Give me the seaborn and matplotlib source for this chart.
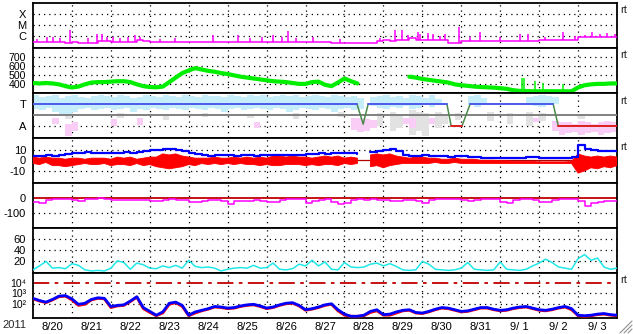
import numpy as np
import matplotlib
matplotlib.use("Agg")
import matplotlib.pyplot as plt
import seaborn as sns
from matplotlib.lines import Line2D

sns.set_theme(style="white")
plt.rcParams['font.family'] = ['Liberation Sans', 'DejaVu Sans']

nan = np.nan
# ---------------- data ----------------
year_label = "2011"
day_labels = ["8/20", "8/21", "8/22", "8/23", "8/24", "8/25", "8/26", "8/27",
              "8/28", "8/29", "8/30", "8/31", "9/ 1", "9/ 2", "9/ 3"]
# 4-hour samples starting 2011-08-20 00:00 (days)
t_grid = np.arange(91) / 6.0

# X-ray flux background (W/m2) and flare spikes
xray_base = [2.7e-7, 2.5e-7, 2.8e-7, 2.6e-7, 2.7e-7, 2.4e-7, 2.6e-7, 2.2e-7, 2.0e-7, 2.3e-7,
             3.3e-7, 3.2e-7, 3.0e-7, 2.7e-7, 2.8e-7, 2.6e-7, 3.8e-7, 3.5e-7, 2.7e-7, 2.6e-7,
             2.8e-7, 2.7e-7, 2.6e-7, 2.7e-7, 2.8e-7, 2.6e-7, 2.7e-7, 2.7e-7, 2.6e-7, 2.7e-7,
             2.7e-7, 2.6e-7, 2.7e-7, 2.8e-7, 2.7e-7, 2.6e-7, 2.7e-7, 2.7e-7, 2.8e-7, 2.7e-7,
             2.6e-7, 2.7e-7, 2.7e-7, 2.6e-7, 2.7e-7, 2.6e-7, 2.3e-7, 2.2e-7, 2.2e-7, 2.1e-7,
             2.2e-7, 2.3e-7, 2.4e-7, 3.5e-7, 3.8e-7, 3.6e-7, 3.8e-7, 4.5e-7, 6.5e-7, 4.4e-7,
             4.2e-7, 4.4e-7, 4.3e-7, 4.0e-7, 2.2e-7, 2.4e-7, 3.3e-7, 3.2e-7, 3.3e-7, 3.4e-7,
             3.3e-7, 3.2e-7, 3.3e-7, 3.3e-7, 3.2e-7, 3.4e-7, 3.3e-7, 3.4e-7, 4.4e-7, 4.2e-7,
             4.4e-7, 4.5e-7, 4.3e-7, 4.4e-7, 7.6e-7, 7.0e-7, 7.8e-7, 7.2e-7, 8.0e-7, 7.5e-7,
             8.5e-7]
flare_t = [0.10, 0.36, 0.51, 0.69, 0.95, 1.41, 1.64, 1.77, 1.90, 2.06, 2.23, 2.44, 2.62, 2.75,
           3.26, 3.65, 4.62, 5.27, 5.57, 5.88, 6.16, 6.40, 6.55, 6.76, 7.19, 7.89, 8.91, 9.30,
           9.48, 9.63, 9.89, 9.94, 10.15, 10.27, 10.45, 10.58, 10.94, 11.23, 11.48, 12.00,
           12.51, 12.72, 13.15, 13.61, 13.92, 14.18, 14.36, 14.56, 14.74, 14.95]
flare_peak = [5.5e-7, 7e-7, 7.5e-7, 6e-7, 3.1e-6, 6e-7, 1.5e-6, 1.5e-6, 7e-7, 7.5e-7, 6e-7,
              7.5e-7, 1.1e-6, 7e-7, 5.5e-7, 6e-7, 1.1e-6, 1.1e-6, 6e-7, 7e-7, 1.1e-6, 8e-7,
              2.5e-6, 6e-7, 7e-7, 5e-7, 6.5e-7, 3.6e-6, 3.1e-6, 1.1e-6, 2.0e-6, 1.5e-6, 1.6e-6,
              1.5e-6, 9e-7, 1.5e-6, 6.2e-6, 7e-7, 2.0e-6, 7e-7, 1.5e-6, 1.5e-6, 8e-7, 2.0e-6,
              1.0e-6, 1.2e-6, 2.0e-6, 1.3e-6, 1.7e-6, 1.5e-6]

# Solar wind speed (km/s)
wind_speed = [410, 405, 410, 405, 395, 375, 360, 370, 395, 415,
              420, 420, 425, 430, 430, 420, 395, 375, 365, 362,
              370, 420, 470, 520, 550, 575, 560, 545, 535, 520,
              510, 495, 480, 470, 460, 450, 440, 430, 425, 420,
              410, 400, 400, 420, 425, 390, 375, 415, 460, 430,
              405, nan, nan, nan, nan, nan, nan, nan, 480, 470,
              455, 445, 435, 425, 415, 395, 385, 378, 370, 365,
              362, 358, 352, 345, 330, 322, 320, 318, 318, 318,
              318, 318, 318, 318, 360, 385, 395, 400, 400, 405,
              405]
wind_spike_t = [12.56, 12.61, 12.90, 13.10, 13.61]
wind_spike_v = [460, 470, 430, 410, 395]
wind_spike_base = 318

# IMF sector (T = +1, A = -1)
sector_t = [0, 8.32, 8.48, 8.61, 10.63, 10.74, 11.02, 11.23, 13.36, 13.49, 15]
sector_v = [1, 1, -0.85, 1, 1, -1, -1, 1, 1, -1, -1]
toward_hi = [1.8, 1.6, 1.7, 1.8, 1.5, 1.7, 1.8, 1.6, 1.5, 1.7,
             1.8, 1.7, 1.6, 1.8, 1.7, 1.5, 1.6, 1.8, 1.7, 1.6,
             1.8, 1.7, 1.6, 1.8, 1.7, 1.6, 1.8, 1.7, 1.7, 1.6,
             1.8, 1.7, 1.6, 1.8, 1.7, 1.8, 1.6, 1.7, 1.8, 1.7,
             1.8, 1.6, 1.7, 1.8, 1.7, 1.6, 1.8, 1.7, 1.6, 1.7,
             1.5, nan, 1.6, 1.7, 1.8, 1.6, 1.7, 1.5, 1.8, 1.7,
             1.5, 1.8, 1.4, nan, nan, nan, nan, 1.7, 1.8, 1.5,
             nan, nan, nan, nan, nan, nan, 1.6, 1.7, 1.8, 1.7,
             1.6, nan, nan, nan, nan, nan, nan, nan, nan, nan]
toward_lo = [0.5, 0.4, 0.6, 0.3, 0.1, 0.0, 0.3, 0.5, 0.6, 0.4,
             0.5, 0.6, 0.4, 0.5, 0.6, 0.3, 0.5, 0.4, 0.6, 0.5,
             0.4, 0.6, 0.5, 0.4, 0.6, 0.5, 0.4, 0.6, 0.5, 0.3,
             0.5, 0.6, 0.4, 0.5, 0.6, 0.5, 0.4, 0.6, 0.5, 0.3,
             0.4, 0.6, 0.5, 0.4, 0.6, 0.5, 0.3, 0.5, 0.6, 0.4,
             0.5, nan, 0.8, 0.6, 0.5, 0.7, 0.6, 0.8, 0.5, 0.6,
             0.9, 0.7, 1.0, nan, nan, nan, nan, 0.9, 0.7, 1.0,
             nan, nan, nan, nan, nan, nan, 0.9, 0.8, 0.7, 1.0,
             1.0, nan, nan, nan, nan, nan, nan, nan, nan, nan]
away_idx = [3, 5, 6, 12, 16, 34, 49, 50, 51, 52, 57, 58, 61, 77, 80, 81, 82, 83, 84, 85, 86, 87, 88, 89]
away_hi = [-0.3, -0.8, -0.7, -0.4, -0.3, -0.7, -0.3, -0.3, -0.4, -0.5, -0.3, -0.3, -0.3, -0.3,
           -0.6, -0.7, -0.7, -0.8, -0.6, -0.7, -0.8, -0.7, -0.6, -0.7]
away_lo = [-0.8, -1.9, -1.5, -1.0, -0.9, -1.2, -1.4, -1.6, -1.5, -1.2, -0.8, -1.2, -0.8, -0.7,
           -1.5, -1.8, -1.7, -1.6, -1.8, -1.7, -1.6, -1.8, -1.7, -1.6]
mixed_idx = [5, 13, 20, 26, 33, 40, 47, 53, 55, 56, 58, 59, 60, 62, 63, 65, 70, 73, 76, 78, 84]
mixed_hi = [0.0, 0.2, 0.1, 0.2, 0.1, 0.2, 0.3, 0.2, 0.3, 0.1, 0.4, 0.3, 0.2, 0.3, 0.1, 0.2, 0.3,
            0.2, 0.3, 0.2, 0.1]
mixed_lo = [-0.4, -0.3, -0.5, -0.2, -0.3, -0.4, -0.2, -1.0, -1.5, -1.2, -1.8, -1.5, -1.9, -1.2,
            -0.8, -0.5, -0.6, -0.8, -1.0, -0.6, -0.4]

# IMF Bt and Bz (nT)
bt = [4, 4, 4.5, 4, 5, 6, 7, 7, 7.5, 7,
      7, 7, 7, 7, 7.5, 7, 8, 9, 9.5, 10,
      11, 10.5, 9.5, 8.5, 6.5, 5.5, 4.5, 4, 4.5, 4.5,
      4.5, 4, 4.5, 4.5, 4, 4.5, 4.5, 5, 4.5, 4.5,
      5, 5, 5.5, 6, 6.5, 6, 6.5, 6.5, 7, 7,
      6, nan, 8, 9, 10, 10.5, 9, 5, 4, 4,
      4.5, 4, 4, 4, 3.5, 4, 4, 3.5, 3, 2.5,
      2.5, 2.5, 2.5, 2.5, 2.5, 2.5, 3, 3, 2.5, 2.5,
      2.5, 2.5, 2.5, 3, 14, 10.5, 9.5, 9, 9, 8.5,
      9]
bz_hi = [3, 2, 3, 2, 2, 1, 2, 2, 1, 2,
         2, 2, 1, 3, 2, 3, 1, 2, 3, 3,
         6, 5, 6, 4, 3, 2, 2, 2, 3, 2,
         2, 3, 2, 3, 2, 3, 2, 4, 4, 3,
         4, 3, 3, 2, 3, 4, 3, 4, 2, 3,
         2, nan, 5, 6, 5, 6, 4, 3, 2, 3,
         3, 2, 2, 1, 1, 2, 1, 1, 1, 0,
         0, 0, -0.5, -0.5, -1, -1, -1, -1, -1.5, -1.5,
         -1.5, -1.5, -1.5, -1, 6, 4, 3, 4, 3, 4,
         3]
bz_lo = [-3, -4, -2, -5, -5, -6, -5, -4, -3, -4,
         -4, -3, -5, -4, -4, -5, -3, -5, -4, -6,
         -7, -8, -7, -6, -4, -5, -3, -4, -3, -4,
         -3, -4, -3, -4, -4, -5, -4, -5, -5, -4,
         -4, -4, -5, -4, -5, -4, -4, -5, -3, -4,
         -3, nan, -6, -5, -7, -5, -4, -3, -3, -3,
         -3, -3, -2, -3, -3, -2, -3, -3, -3, -3,
         -3, -3, -3, -3, -3, -3, -3, -3, -3, -3,
         -3, -3, -3, -3, -12, -10, -7, -8, -6, -7,
         -5]

# Dst (nT)
dst = [-30, -35, -15, -8, -9, -10, -15, -25, -10, -6,
       -5, -8, -15, -12, -18, -12, -15, -12, -20, -20,
       -12, -10, -12, -15, -30, -28, -20, -15, -12, -20,
       -40, -25, -22, -20, -18, -20, -30, -30, -12, -8,
       -8, -10, -38, -20, -15, -10, -30, -42, -35, -15,
       -10, -12, -10, -12, -15, -24, -22, -15, -18, -20,
       -38, -15, -8, -9, -8, -10, -18, -24, -12, -8,
       -9, -10, -30, -38, -15, -9, -8, -12, -30, -28,
       -12, -8, -9, -10, -25, -58, -35, -28, -22, -25,
       -20]

# geomagnetic activity index
activity = [5, 12, 20, 8, 9, 7, 16, 13, 5, 3,
            4, 3, 8, 21, 18, 6, 17, 14, 8, 7,
            12, 9, 13, 8, 22, 11, 9, 10, 8, 3,
            6, 8, 9, 8, 13, 8, 9, 17, 6, 5,
            7, 15, 12, 22, 12, 19, 6, 5, 18, 10,
            9, 10, 15, 17, 12, 16, 11, 5, 4, 5,
            20, 15, 6, 5, 4, 5, 8, 18, 6, 5,
            4, 5, 19, 6, 5, 4, 6, 12, 17, 24,
            18, 10, 8, 6, 25, 32, 22, 26, 10, 6,
            8]

# electron flux exponents (log10)
e_blue_exp = [2.55, 2.35, 2.2, 2.45, 2.75, 2.8, 2.5, 2.0, 2.1, 2.45,
              2.6, 2.55, 1.8, 1.9, 1.95, 2.3, 2.7, 1.7, 1.35, 1.0,
              1.3, 2.1, 2.2, 1.9, 1.0, 1.3, 1.45, 1.6, 1.8, 1.75,
              1.65, 1.7, 1.85, 1.95, 2.0, 1.85, 1.65, 1.75, 1.95, 2.1,
              2.15, 1.9, 1.5, 1.6, 1.75, 1.95, 2.05, 1.5, 1.1, 0.9,
              0.9, 1.0, 1.35, 1.5, 1.05, 1.1, 1.3, 1.45, 1.5, 1.25,
              1.2, 1.35, 1.55, 1.7, 1.65, 1.5, 1.35, 1.4, 1.55, 1.7,
              1.7, 1.55, 1.45, 1.5, 1.65, 1.75, 1.8, 1.65, 1.5, 1.45,
              1.55, 1.7, 1.8, 1.6, 1.0, 0.95, 1.0, 1.1, 1.15, 1.05,
              1.0]
e_red_exp = [2.5, 2.3, 2.15, 2.4, 2.7, 2.75, 2.4, 1.9, 2.0, 2.4,
             2.55, 2.5, 1.7, 1.85, 1.9, 2.25, 2.65, 1.6, 1.25, 0.95,
             1.2, 2.0, 2.15, 1.8, 0.95, 1.2, 1.4, 1.55, 1.75, 1.7,
             1.6, 1.65, 1.8, 1.9, 1.95, 1.8, 1.6, 1.7, 1.9, 2.05,
             2.1, 1.85, 1.45, 1.55, 1.7, 1.9, 2.0, 1.4, 1.0, 0.9,
             0.9, 0.95, 1.25, 1.4, 1.0, 1.0, 1.2, 1.4, 1.45, 1.2,
             1.15, 1.3, 1.5, 1.65, 1.6, 1.45, 1.3, 1.35, 1.5, 1.65,
             1.65, 1.5, 1.4, 1.45, 1.6, 1.7, 1.75, 1.6, 1.45, 1.4,
             1.5, 1.65, 1.75, 1.5, 0.95, 0.9, 0.95, 1.05, 1.1, 1.0,
             0.95]
e_threshold = 1e4

# ---------------- figure ----------------
W, H = 633, 334
fig = plt.figure(figsize=(W / 100, H / 100), dpi=100)
fig.patch.set_facecolor("white")
left_px, right_px, top_px, panel_h = 33, 617, 3, 44.94
FS = 8
DOT = (0, (1, 3.2))

axes = []
for i in range(7):
    top = top_px + i * panel_h
    ax = fig.add_axes([left_px / W, 1 - (top + panel_h) / H, (right_px - left_px) / W, panel_h / H])
    ax.set_facecolor("white")
    ax.set_xlim(0, 15)
    for s in ax.spines.values():
        s.set_color("black")
        s.set_linewidth(1.3)
    ax.tick_params(axis="both", length=0, labelsize=FS, pad=5, colors="black")
    ax.set_xticks([])
    ax.grid(False)
    for d in range(1, 15):
        ax.axvline(d, color="black", ls=DOT, lw=0.9, zorder=1)
    axes.append(ax)


def seg_plot(ax, x, y, **kw):
    x = np.asarray(x, float)
    y = np.asarray(y, float)
    idx = np.where(~np.isnan(y))[0]
    if len(idx) == 0:
        return
    splits = np.where(np.diff(idx) > 1)[0] + 1
    for g in np.split(idx, splits):
        sns.lineplot(x=x[g], y=y[g], ax=ax, estimator=None, sort=False, legend=False, **kw)


def hgrid(ax, levels):
    for v in levels:
        ax.axhline(v, color="black", ls=DOT, lw=0.9, zorder=1)


# Panel 1: X-ray
ax = axes[0]
ax.set_yscale("log")
ax.set_ylim(10 ** -7.1, 10 ** -3.05)
ax.set_yticks([1e-6, 1e-5, 1e-4], labels=["C", "M", "X"])
ax.minorticks_off()
hgrid(ax, [1e-6, 1e-5, 1e-4])
seg_plot(ax, t_grid, xray_base, color="#ff00ff", lw=1.1, drawstyle="steps-post", zorder=3)
base_arr = np.asarray(xray_base)
ax.vlines(flare_t, base_arr[(np.asarray(flare_t) * 6).astype(int)], flare_peak,
          color="#ff00ff", lw=1.1, zorder=3)

# Panel 2: solar wind speed
ax = axes[1]
ax.set_ylim(300, 800)
ax.set_yticks([400, 500, 600, 700], labels=["400", "500", "600", "700"])
ax.tick_params(axis="y", labelsize=7.6)
hgrid(ax, [400, 500, 600, 700])
seg_plot(ax, t_grid, wind_speed, color="#00ee00", lw=3.0, zorder=3)
ax.vlines(wind_spike_t, wind_spike_base, wind_spike_v, color="#00ee00", lw=1.1, zorder=3)

# Panel 3: IMF sector
ax = axes[2]
ax.set_ylim(-2.1, 2.0)
ax.set_yticks([1, -1], labels=["T", "A"])
hgrid(ax, [-1])
w = 1 / 6
th = np.asarray(toward_hi)
tl = np.asarray(toward_lo)
ok = ~np.isnan(th)
ax.bar(t_grid[:90][ok], th[ok] - tl[ok], bottom=tl[ok], width=w, align="edge",
       color="#c6eefa", linewidth=0, zorder=2)
ax.bar(t_grid[mixed_idx], np.asarray(mixed_hi) - np.asarray(mixed_lo), bottom=mixed_lo,
       width=w, align="edge", color="#e2e2e2", linewidth=0, zorder=2)
ax.bar(t_grid[away_idx], np.asarray(away_hi) - np.asarray(away_lo), bottom=away_lo,
       width=w, align="edge", color="#f9cdf5", linewidth=0, zorder=2)
ax.axhline(0, color="#808080", lw=1.4, zorder=3)
sec_t = np.asarray(sector_t, float)
sec_v = np.asarray(sector_v, float)
sns.lineplot(x=sec_t, y=sec_v, ax=ax, color="#4a8a4a", lw=1.1, estimator=None, sort=False,
             legend=False, zorder=4)
for level, col in [(1, "#4f5cf0"), (-1, "#e02020")]:
    masked = np.where(sec_v == level, sec_v, np.nan)
    seg_plot(ax, sec_t, masked, color=col, lw=1.4, zorder=5)

# Panel 4: Bt / Bz
ax = axes[3]
ax.set_ylim(-21, 21)
ax.set_yticks([10, 0, -10], labels=["10", "0", "-10"])
hgrid(ax, [10, -10])
ax.axhline(0, color="#b00000", lw=0.9, zorder=2)
bzh = np.asarray(bz_hi, float)
bzl = np.asarray(bz_lo, float)
ax.fill_between(t_grid, bzl, bzh, color="#ff0000", linewidth=0.6, edgecolor="#ff0000", zorder=3)
seg_plot(ax, t_grid, bt, color="#0000ff", lw=1.6, drawstyle="steps-post", zorder=4)

# Panel 5: Dst
ax = axes[4]
ax.set_ylim(-200, 100)
ax.set_yticks([0, -100], labels=["0", "-100"])
hgrid(ax, [-100])
ax.axhline(0, color="#c00000", lw=1.3, zorder=2)
seg_plot(ax, t_grid, dst, color="#ff00ff", lw=1.1, drawstyle="steps-post", zorder=3)

# Panel 6: activity index
ax = axes[5]
ax.set_ylim(0, 80)
ax.set_yticks([20, 40, 60], labels=["20", "40", "60"])
hgrid(ax, [20, 40, 60])
seg_plot(ax, t_grid, activity, color="#20e8e8", lw=1.1, zorder=3)

# Panel 7: electron flux
ax = axes[6]
ax.set_yscale("log")
ax.set_ylim(10 ** 0.78, 10 ** 4.91)
ax.set_yticks([1e2, 1e3, 1e4], labels=["10\u00b2", "10\u00b3", "10\u2074"])
ax.tick_params(axis="y", labelsize=7.6)
ax.minorticks_off()
hgrid(ax, [1e2, 1e3])
ax.axhline(e_threshold, color="#c00000", lw=1.3, ls=(0, (9, 3, 2, 3)), zorder=2)
seg_plot(ax, t_grid, 10 ** np.asarray(e_red_exp), color="#ff0000", lw=2.0, zorder=3)
seg_plot(ax, t_grid, 10 ** np.asarray(e_blue_exp), color="#0000ff", lw=2.0, zorder=4)
ax.set_xticks(np.arange(15) + 0.5, labels=day_labels)
ax.tick_params(axis="x", pad=3, labelsize=FS)

for ax in axes:
    ax.set_xlim(0, 15)
    ax.set_xlabel("")
    ax.set_ylabel("")

fig.text(2 / W, 1 - 325 / H, year_label, fontsize=FS, va="center", ha="left")
for yp in [10, 55, 101.5, 147, 280]:
    fig.text(620 / W, 1 - yp / H, "rt", fontsize=FS, va="center", ha="left")

for off in [0, 4, 8]:
    fig.add_artist(Line2D([(620 + off) / W, 632 / W], [1 - 333 / H, 1 - (333 - 12 + off) / H],
                          transform=fig.transFigure, color="#909090", lw=0.8))

fig.savefig("out.png", dpi=100, facecolor="white")
